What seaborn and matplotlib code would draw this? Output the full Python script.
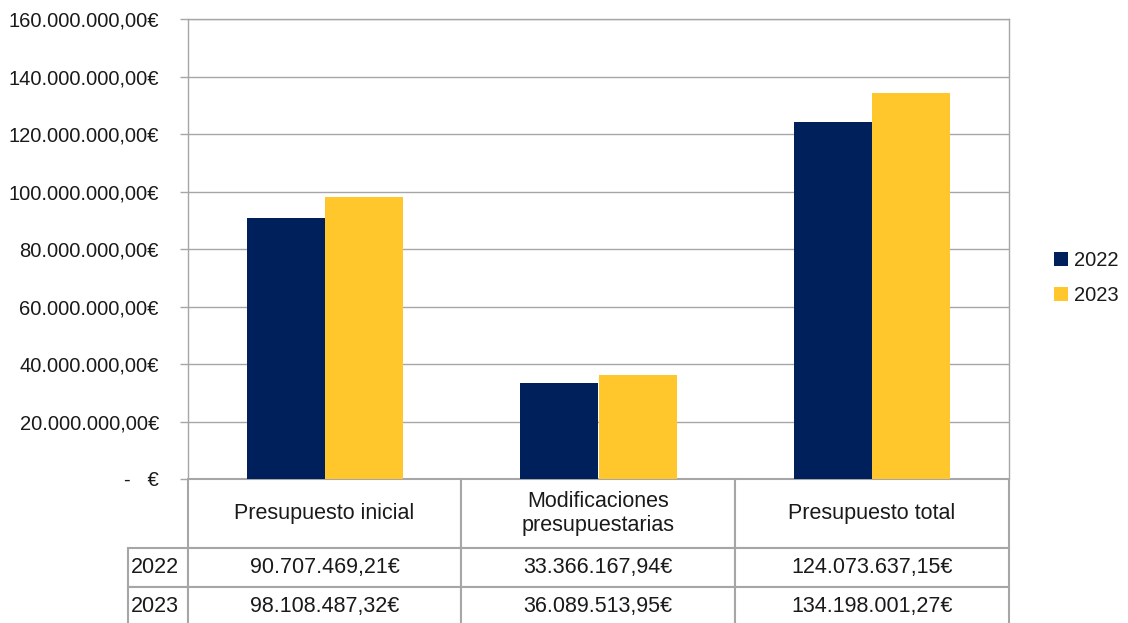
import matplotlib
matplotlib.use('Agg')
import matplotlib.pyplot as plt
from matplotlib.ticker import FuncFormatter, MultipleLocator
from matplotlib.patches import Patch
import seaborn as sns
import pandas as pd

sns.set_style('white')
plt.rcParams['font.family'] = ['Liberation Sans Narrow', 'Liberation Sans', 'DejaVu Sans']

categories = ['Presupuesto inicial', 'Modificaciones\npresupuestarias', 'Presupuesto total']
years = ['2022', '2023']
values_2022 = [90707469.21, 33366167.94, 124073637.15]
values_2023 = [98108487.32, 36089513.95, 134198001.27]
colors = ['#00205B', '#FFC72C']

grid_col = '#A6A6A6'
text_col = '#1A1A1A'


def euro(v, pos=None):
    if v == 0:
        return '-   €'
    s = f'{v:,.2f}'.replace(',', 'X').replace('.', ',').replace('X', '.')
    return s + '€'


df = pd.DataFrame({
    'cat': categories * 2,
    'year': [years[0]] * 3 + [years[1]] * 3,
    'value': values_2022 + values_2023,
})

fig = plt.figure(figsize=(11.28, 6.23), dpi=100)
ax = fig.add_axes([188 / 1128, 1 - 479 / 623, 821 / 1128, 460 / 623])

sns.barplot(data=df, x='cat', y='value', hue='year', palette=colors,
            width=0.571, saturation=1, edgecolor='none', linewidth=0, ax=ax)
ax.get_legend().remove()

ax.set_ylim(0, 160000000)
ax.set_xlim(-0.5, 2.5)
ax.yaxis.set_major_locator(MultipleLocator(20000000))
ax.yaxis.set_major_formatter(FuncFormatter(euro))
ax.set_axisbelow(True)
ax.grid(axis='y', color=grid_col, linewidth=1)
ax.set_xlabel('')
ax.set_ylabel('')
ax.set_xticks([])
ax.tick_params(axis='y', length=6, width=1, color=grid_col, pad=15,
               labelsize=14.5, labelcolor=text_col, left=True)
for side in ['left', 'right', 'top']:
    ax.spines[side].set_color(grid_col)
    ax.spines[side].set_linewidth(1)
ax.spines['bottom'].set_visible(False)

# data table below the plot
cell_text = [[''] + categories]
cell_text.append([years[0]] + [euro(v) for v in values_2022])
cell_text.append([years[1]] + [euro(v) for v in values_2023])
col_w = [60, 273, 274, 274]
row_h = [69, 39, 39]
tbl = ax.table(cellText=cell_text, cellLoc='center',
               bbox=[-60 / 821, -147 / 460, 881 / 821, 147 / 460])
tbl.auto_set_font_size(False)
for (r, c), cell in tbl.get_celld().items():
    cell.set_width(col_w[c])
    cell.set_height(row_h[r])
    cell.set_edgecolor(grid_col)
    cell.set_linewidth(1.5)
    cell.get_text().set_fontsize(15.5)
    cell.get_text().set_color(text_col)
    if r == 0 and c == 0:
        cell.visible_edges = ''
    if c == 0:
        cell.get_text().set_ha('left')
        cell.PAD = 0.05
tbl.set_clip_on(False)

handles = [Patch(facecolor=colors[i], edgecolor='none', label=years[i]) for i in range(2)]
fig.legend(handles=handles, loc='center left', bbox_to_anchor=(1054 / 1128, 0.554),
           frameon=False, fontsize=14.5, handlelength=0.7, handleheight=0.7,
           handletextpad=0.3, labelspacing=0.8, borderpad=0, borderaxespad=0,
           labelcolor=text_col)

fig.savefig('out.png', dpi=100)
